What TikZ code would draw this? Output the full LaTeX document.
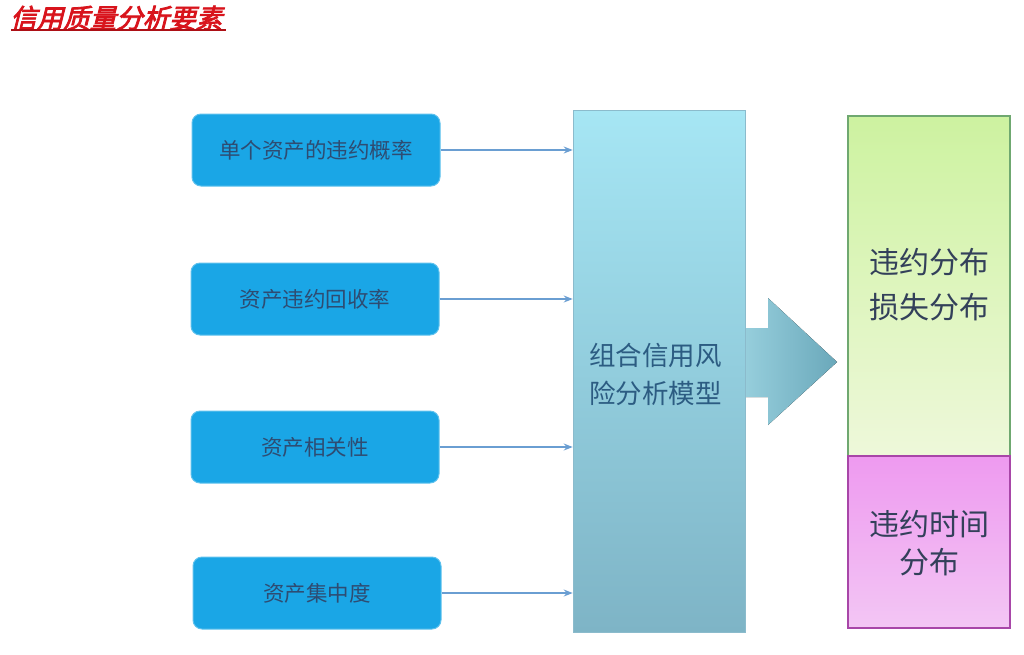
\documentclass[tikz,border=0pt]{standalone}
\usepackage{fontspec}
\setmainfont{Noto Sans CJK SC}
\newfontfamily\titlefont[FakeSlant=0.25,FakeBold=3]{Noto Sans CJK SC}
\usetikzlibrary{arrows.meta}
\definecolor{boxblue}{HTML}{1AA6E6}
\definecolor{boxtext}{HTML}{2E4C72}
\definecolor{linkblue}{HTML}{6A9ED2}
\definecolor{midtop}{HTML}{A6E6F4}
\definecolor{midbot}{HTML}{7EB4C6}
\definecolor{midtext}{HTML}{2C5C82}
\definecolor{arrL}{HTML}{96CEDC}
\definecolor{arrR}{HTML}{6AA8BA}
\definecolor{greenfill}{HTML}{CDF2A0}
\definecolor{greenlight}{HTML}{EEF8DA}
\definecolor{greenedge}{HTML}{6FA870}
\definecolor{pinkfill}{HTML}{EE9AF0}
\definecolor{pinklight}{HTML}{F3C6F4}
\definecolor{pinkedge}{HTML}{A846A8}
\definecolor{righttext}{HTML}{33405A}
\definecolor{titlered}{HTML}{D8141C}
\tikzset{
  inbox/.style={rounded corners=9pt, fill=boxblue, draw=boxblue!70!white, line width=1pt,
    minimum width=248pt, minimum height=72pt, text=boxtext, font=\fontsize{21.5}{24}\selectfont},
  link/.style={draw=linkblue, line width=1.6pt, -{Stealth[length=9pt,width=7pt]}},
}
\begin{document}
\begin{tikzpicture}[x=1pt,y=-1pt]
\useasboundingbox (0,0) rectangle (1024,654);
% title
\node[anchor=west, inner sep=0pt, text=titlered, font=\titlefont\fontsize{26.5}{28}\selectfont] (title) at (10,18) {信用质量分析要素};
\draw[titlered!80!black, line width=1.6pt] (11,30) -- (226,30);
% input boxes
\node[inbox] (b1) at (316,150) {单个资产的违约概率};
\node[inbox] (b2) at (315,299) {资产违约回收率};
\node[inbox] (b3) at (315,447) {资产相关性};
\node[inbox] (b4) at (317,593) {资产集中度};
% big arrow
\coordinate (aS) at (745,362);
\fill[left color=arrL, right color=arrR]
  (745,328) -- (768,328) -- (768,298) -- (837,362) -- (768,425) -- (768,397) -- (745,397) -- cycle;
% middle box
\node[minimum width=172pt, minimum height=522pt, top color=midtop, bottom color=midbot,
      draw=midbot!90!white, line width=0.6pt, inner sep=0pt] (mid) at (659,371) {};
\node[anchor=west, align=left, text=midtext, font=\fontsize{26.5}{38}\selectfont, inner sep=0pt] (midtext) at (589,374) {组合信用风\\险分析模型};
% links
\draw[link] (b1.east) -- (b1.east -| mid.west);
\draw[link] (b2.east) -- (b2.east -| mid.west);
\draw[link] (b3.east) -- (b3.east -| mid.west);
\draw[link] (b4.east) -- (b4.east -| mid.west);
% right boxes
\node[minimum width=162pt, minimum height=340pt, inner sep=0pt, top color=greenfill, bottom color=greenlight,
      draw=greenedge, line width=1.5pt] (green) at (929,286) {};
\node[minimum width=162pt, minimum height=172pt, inner sep=0pt, top color=pinkfill, bottom color=pinklight,
      draw=pinkedge, line width=1.5pt] (pink) at (929,542) {};
\node[align=center, text=righttext, font=\fontsize{30}{45}\selectfont] (gt) at (929,285) {违约分布\\损失分布};
\node[align=center, text=righttext, font=\fontsize{30}{38}\selectfont] (pt) at (929,543) {违约时间\\分布};
\end{tikzpicture}
\end{document}
